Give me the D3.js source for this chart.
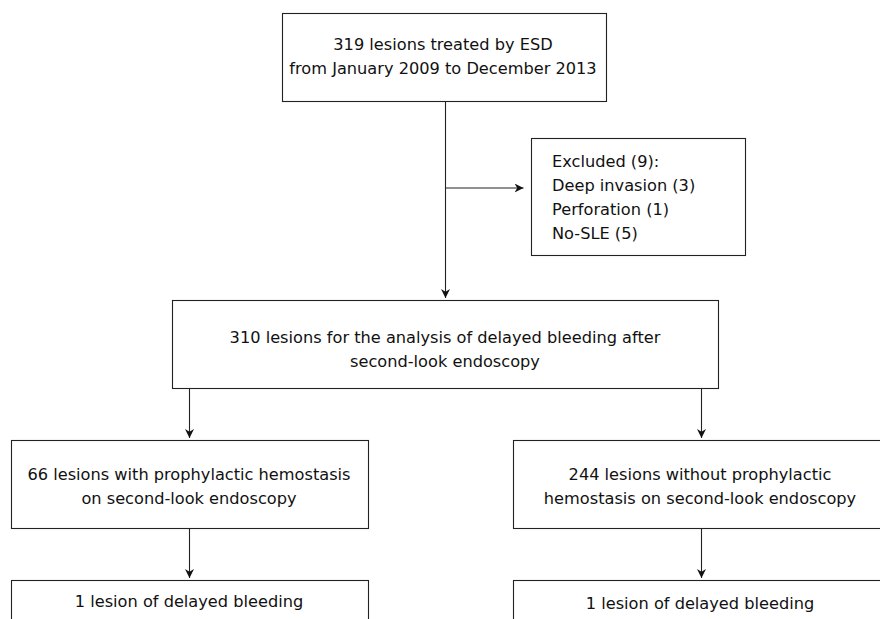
<!DOCTYPE html>
<html>
<head>
<meta charset="utf-8">
<script src="https://cdn.jsdelivr.net/npm/d3@7"></script>
<style>
  body { margin: 0; background: #fff; }
  svg { display: block; }
  text { font-family: "DejaVu Sans", Verdana, sans-serif; font-size: 16.2px; fill: #111; }
</style>
</head>
<body>
<script>
// box labels, one array of lines per box
const topLines = ['319 lesions treated by ESD', 'from January 2009 to December 2013'];
const excludedLines = ['Excluded (9):', 'Deep invasion (3)', 'Perforation (1)', 'No-SLE (5)'];
const analysisLines = ['310 lesions for the analysis of delayed bleeding after', 'second-look endoscopy'];
const withLines = ['66 lesions with prophylactic hemostasis', 'on second-look endoscopy'];
const withoutLines = ['244 lesions without prophylactic', 'hemostasis on second-look endoscopy'];
const withBleedLines = ['1 lesion of delayed bleeding'];
const withoutBleedLines = ['1 lesion of delayed bleeding'];

const width = 880;
const height = 619;
const lineGap = 24;

// layout of the boxes (left, top, width, height, text centre)
const nodes = [
  { id: 'top', lines: topLines, x: 282, y: 13, w: 324, h: 88, cx: 443, align: 'middle', ty: 50 },
  { id: 'excl', lines: excludedLines, x: 531, y: 138, w: 214, h: 117, tx: 552, align: 'start', ty: 167 },
  { id: 'mid', lines: analysisLines, x: 172, y: 300, w: 546, h: 88, cx: 445, align: 'middle', ty: 343 },
  { id: 'with', lines: withLines, x: 11, y: 440, w: 357, h: 88, cx: 189, align: 'middle', ty: 480 },
  { id: 'without', lines: withoutLines, x: 513, y: 440, w: 376, h: 88, cx: 700, align: 'middle', ty: 480 },
  { id: 'withBleed', lines: withBleedLines, x: 11, y: 580, w: 357, h: 70, cx: 189, align: 'middle', ty: 607 },
  { id: 'withoutBleed', lines: withoutBleedLines, x: 513, y: 580, w: 376, h: 70, cx: 700, align: 'middle', ty: 609 }
];

const svg = d3.select('body')
  .append('svg')
  .attr('width', width)
  .attr('height', height);

svg.append('defs')
  .append('marker')
  .attr('id', 'arrow')
  .attr('viewBox', '0 0 10 10')
  .attr('refX', 10)
  .attr('refY', 5)
  .attr('markerWidth', 9)
  .attr('markerHeight', 9)
  .attr('markerUnits', 'userSpaceOnUse')
  .attr('orient', 'auto')
  .append('path')
  .attr('d', 'M0,0 L10,5 L0,10 L3,5 Z')
  .style('fill', '#111');

const byId = {};
nodes.forEach(n => { byId[n.id] = n; });

// connectors
const links = [
  { from: [445, byId.top.y + byId.top.h], to: [445, byId.mid.y - 2] },
  { from: [445, 188], to: [byId.excl.x - 8, 188] },
  { from: [189, byId.mid.y + byId.mid.h], to: [189, byId.with.y - 2] },
  { from: [701, byId.mid.y + byId.mid.h], to: [701, byId.without.y - 2] },
  { from: [189, byId.with.y + byId.with.h], to: [189, byId.withBleed.y - 2] },
  { from: [701, byId.without.y + byId.without.h], to: [701, byId.withoutBleed.y - 2] }
];

svg.selectAll('line.link')
  .data(links)
  .enter()
  .append('line')
  .attr('class', 'link')
  .attr('x1', d => d.from[0] + 0.5)
  .attr('y1', d => d.from[1])
  .attr('x2', d => d.to[0] + 0.5)
  .attr('y2', d => d.to[1])
  .style('stroke', '#222')
  .style('stroke-width', 1.1)
  .attr('marker-end', 'url(#arrow)');

const boxes = svg.selectAll('g.box')
  .data(nodes)
  .enter()
  .append('g')
  .attr('class', 'box');

boxes.append('rect')
  .attr('x', d => d.x + 0.5)
  .attr('y', d => d.y + 0.5)
  .attr('width', d => d.w)
  .attr('height', d => d.h)
  .style('fill', '#fff')
  .style('stroke', '#222')
  .style('stroke-width', 1.1);

boxes.each(function (d) {
  const g = d3.select(this);
  g.selectAll('text')
    .data(d.lines)
    .enter()
    .append('text')
    .attr('x', d.align === 'start' ? d.tx : d.cx)
    .attr('y', (t, i) => d.ty + i * lineGap)
    .attr('text-anchor', d.align)
    .text(t => t);
});
</script>
</body>
</html>
